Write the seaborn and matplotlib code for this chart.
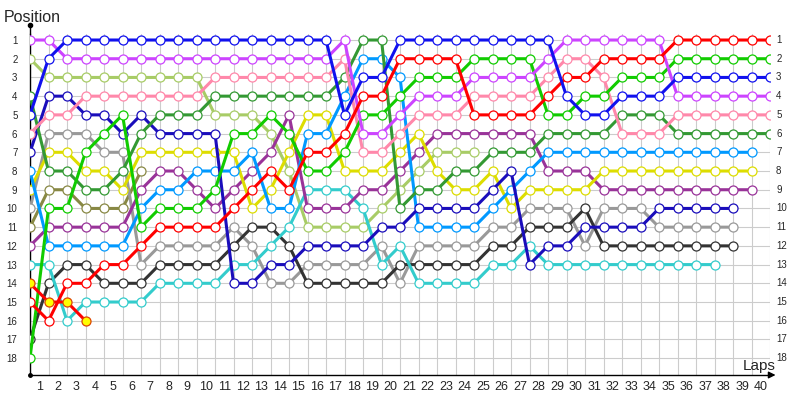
import matplotlib
matplotlib.use("Agg")
import matplotlib.pyplot as plt
import seaborn as sns
import pandas as pd

# positions per lap (index 0 = grid), list ends when the car stops
blue = [5, 2, 1, 1, 1, 1, 1, 1, 1, 1, 1, 1, 1, 1, 1, 1, 1, 5, 3, 3,
        1, 1, 1, 1, 1, 1, 1, 1, 1, 4, 5, 5, 4, 4, 4, 3, 3, 3, 3, 3, 3]
violet = [1, 1, 2, 2, 2, 2, 2, 2, 2, 2, 2, 2, 2, 2, 2, 2, 2, 1, 6, 6,
          5, 4, 4, 4, 3, 3, 3, 3, 2, 1, 1, 1, 1, 1, 1, 4, 4, 4, 4, 4, 4]
pink = [6, 5, 5, 4, 4, 4, 4, 4, 4, 4, 3, 3, 3, 3, 3, 3, 3, 2, 7, 7,
        6, 5, 5, 5, 4, 4, 4, 4, 3, 2, 2, 3, 6, 6, 6, 5, 5, 5, 5, 5, 5]
red = [15, 16, 14, 14, 13, 13, 12, 11, 11, 11, 11, 10, 9, 8, 9, 7, 7, 6, 4, 4,
       2, 2, 2, 2, 5, 5, 5, 5, 4, 3, 3, 2, 2, 2, 2, 1, 1, 1, 1, 1, 1]
green = [18, 10, 10, 7, 6, 5, 11, 10, 10, 10, 9, 6, 6, 5, 6, 8, 8, 7, 5, 5,
         4, 3, 3, 3, 2, 2, 2, 2, 5, 5, 4, 4, 3, 3, 3, 2, 2, 2, 2, 2, 2]
dark_green = [4, 8, 8, 9, 9, 8, 6, 5, 5, 5, 4, 4, 4, 4, 4, 4, 4, 3, 1, 1,
              10, 9, 9, 8, 8, 7, 7, 7, 6, 6, 6, 6, 5, 5, 5, 6, 6, 6, 6, 6, 6]
light_blue = [8, 12, 12, 12, 12, 12, 10, 9, 9, 8, 8, 8, 7, 10, 10, 6, 6, 4, 2, 2,
              3, 11, 11, 11, 11, 10, 9, 8, 7, 7, 7, 7, 7, 7, 7, 7, 7, 7, 7, 7]
yellow = [9, 7, 7, 8, 8, 9, 7, 7, 7, 7, 7, 7, 10, 9, 7, 5, 5, 8, 8, 8,
          7, 6, 8, 9, 9, 8, 10, 9, 9, 9, 9, 8, 8, 8, 8, 8, 8, 8, 8, 8]
purple = [12, 11, 11, 11, 11, 11, 9, 8, 8, 9, 10, 9, 8, 7, 5, 10, 10, 10, 9, 9,
          8, 7, 6, 6, 6, 6, 6, 6, 8, 8, 8, 9, 9, 9, 9, 9, 9, 9, 9, 9]
navy = [7, 4, 4, 5, 5, 6, 5, 6, 6, 6, 6, 14, 14, 13, 13, 12, 12, 12, 12, 11,
        11, 10, 10, 10, 10, 9, 8, 13, 12, 12, 11, 11, 11, 11, 10, 10, 10, 10, 10]
grey = [10, 6, 6, 6, 7, 7, 13, 12, 12, 12, 12, 11, 12, 14, 14, 13, 13, 13, 13, 12,
        14, 12, 12, 12, 12, 11, 11, 10, 10, 10, 12, 10, 10, 10, 11, 11, 11, 11, 11]
black = [17, 14, 13, 13, 14, 14, 14, 13, 13, 13, 13, 12, 11, 11, 12, 14, 14, 14, 14, 14,
         13, 13, 13, 13, 13, 12, 12, 11, 11, 11, 10, 12, 12, 12, 12, 12, 12, 12, 12]
cyan = [13, 13, 16, 15, 15, 15, 15, 14, 14, 14, 14, 13, 13, 12, 11, 9, 9, 9, 10, 13,
        12, 14, 14, 14, 14, 13, 13, 12, 13, 13, 13, 13, 13, 13, 13, 13, 13, 13]
light_olive = [2, 3, 3, 3, 3, 3, 3, 3, 3, 3, 5, 5, 5, 6, 8, 11, 11, 11, 11, 10,
               9, 8, 7, 7, 7]
olive = [11, 9, 9, 10, 10, 10, 8]
gold = [14, 15, 15, 16]

drivers = [
    (light_olive, "#a8cc66", "white", "#a8cc66"),
    (olive, "#888844", "white", "#888844"),
    (grey, "#999999", "white", "#999999"),
    (black, "#333333", "white", "#333333"),
    (cyan, "#33cccc", "white", "#33cccc"),
    (purple, "#993399", "white", "#993399"),
    (yellow, "#dddd00", "white", "#dddd00"),
    (light_blue, "#0099ff", "white", "#0099ff"),
    (navy, "#1a0dbb", "white", "#1a0dbb"),
    (dark_green, "#339933", "white", "#339933"),
    (pink, "#ff88aa", "white", "#ff88aa"),
    (green, "#11cc00", "white", "#11cc00"),
    (violet, "#cc44ff", "white", "#cc44ff"),
    (red, "#ff0000", "white", "#ff0000"),
    (blue, "#1111ee", "white", "#1111ee"),
    (gold, "#ff0000", "#ffff00", "#dd4400"),
]

sns.set_style("white")
plt.rcParams["font.family"] = ["Liberation Sans", "DejaVu Sans"]

fig = plt.figure(figsize=(8, 4), dpi=100)
ax = fig.add_axes([30 / 800, 25 / 400, 740 / 800, 340.6 / 400])

for vals, col, face, edge in drivers:
    df = pd.DataFrame({"lap": range(len(vals)), "pos": vals})
    sns.lineplot(data=df, x="lap", y="pos", color=col, lw=2.2, marker="o",
                 ms=6.5, mfc=face, mec=edge, mew=0.9, estimator=None,
                 sort=False, ax=ax, zorder=3)

ax.set_xlim(0, 40)
ax.set_ylim(18.9, 0.7)
ax.set_xlabel("")
ax.set_ylabel("")

positions = list(range(1, 19))
lap_labels = [str(k) for k in range(1, 41)]
ax.set_yticks(positions)
ax.set_yticklabels([str(p) for p in positions], fontsize=7)
ax.set_xticks([k - 0.5 for k in range(1, 41)])
ax.set_xticklabels(lap_labels, fontsize=9)
ax.set_xticks(range(0, 41), minor=True)
ax.tick_params(axis="both", which="both", length=0)
ax.tick_params(axis="y", pad=9)
ax.tick_params(axis="x", pad=4)
ax.grid(which="major", axis="y", color="#cccccc", lw=0.8)
ax.grid(which="minor", axis="x", color="#cccccc", lw=0.8)
ax.grid(which="major", axis="x", visible=False)

for side in ["top", "right"]:
    ax.spines[side].set_visible(False)
ax.spines["left"].set_color("black")
ax.spines["bottom"].set_color("black")
ax.spines["left"].set_linewidth(1)
ax.spines["bottom"].set_linewidth(1)

for p in positions:
    ax.text(40.33, p, str(p), fontsize=7, ha="left", va="center")

# axis arrows
ax.plot([0, 0], [0.7, 0.2], color="black", lw=1, clip_on=False)
ax.plot([0], [0.2], "o", color="black", ms=3, clip_on=False)
ax.plot([0], [18.9], "o", color="black", ms=2.5, clip_on=False)
ax.annotate("", xy=(40.45, 18.9), xytext=(39.9, 18.9),
            arrowprops=dict(arrowstyle="-|>", color="black", lw=1),
            annotation_clip=False)

fig.text(4 / 800, 1 - 22 / 400, "Position", fontsize=11.5, va="baseline")
fig.text(743 / 800, 1 - 370 / 400, "Laps", fontsize=11, va="baseline")

fig.savefig("out.png", dpi=100)
